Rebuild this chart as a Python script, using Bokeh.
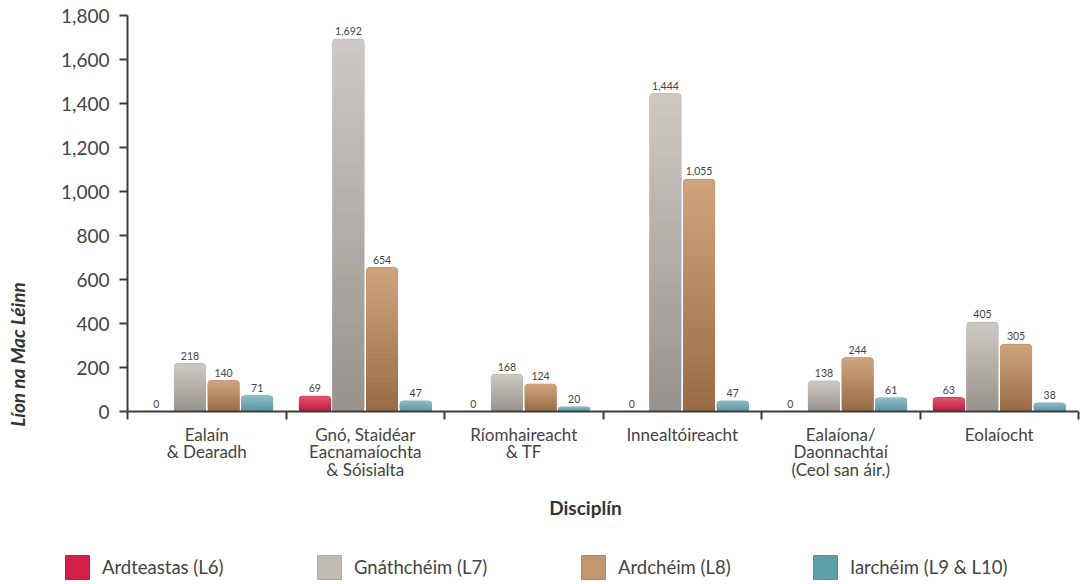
import numpy as np
from bokeh.plotting import figure
from bokeh.models import (Range1d, FixedTicker, NumeralTickFormatter, ColumnDataSource,
                          Legend, LegendItem, Label)
from bokeh.core.properties import value
from bokeh.embed import file_html
from bokeh.resources import INLINE

# ---------------- data ----------------
categories = ["Ealaín\n& Dearadh",
              "Gnó, Staidéar\nEacnamaíochta\n& Sóisialta",
              "Ríomhaireacht\n& TF",
              "Innealtóireacht",
              "Ealaíona/\nDaonnachtaí\n(Ceol san áir.)",
              "Eolaíocht"]
series_names = ["Ardteastas (L6)", "Gnáthchéim (L7)", "Ardchéim (L8)", "Iarchéim (L9 & L10)"]
l6 = [0, 69, 0, 0, 0, 63]
l7 = [218, 1692, 168, 1444, 138, 405]
l8 = [140, 654, 124, 1055, 244, 305]
l9 = [71, 47, 20, 47, 61, 38]
y_ticks = [0, 200, 400, 600, 800, 1000, 1200, 1400, 1600, 1800]
y_max = 1800

series_values = [l6, l7, l8, l9]
legend_colors = ["#d42049", "#c0bbb4", "#c4966b", "#5f9fa9"]
top_colors = ["#df5870", "#cdc8c2", "#cfa47d", "#8dbdc7"]
bottom_colors = ["#c21a3d", "#98938d", "#9a6c46", "#5a97a2"]
offsets = [-0.318, -0.106, 0.106, 0.318]
bar_w = 0.196
legend_x = [62, 314, 578, 810]   # legend item placement (px)

FONT = "Lato"
TXT = "#444444"
AX = "#3c3c3c"

W, H = 1080, 584
# plot-area placement in pixels (layout only)
PL, PR, PT, PB = 127, 1078, 15, 411
n_groups = len(categories)
xs_per_px = n_groups / (PR - PL)
ys_per_px = y_max / (PB - PT)


def hex2rgb(h):
    h = h.lstrip("#")
    return np.array([int(h[i:i + 2], 16) for i in (0, 2, 4)], dtype=float)


def mix(c1, c2, t):
    c = hex2rgb(c1) * (1 - t) + hex2rgb(c2) * t
    return "#%02x%02x%02x" % tuple(int(round(v)) for v in c)


p = figure(width=W, height=H, output_backend="svg", toolbar_location=None, title=None,
           x_range=Range1d(-PL * xs_per_px, n_groups + (W - PR) * xs_per_px),
           y_range=Range1d(-(H - PB) * ys_per_px, y_max + PT * ys_per_px),
           min_border=0)
p.outline_line_color = None
p.grid.visible = False
p.background_fill_color = "white"
p.border_fill_color = "white"

group_idx = np.arange(n_groups)

N = 30
for s, vals in enumerate(series_values):
    vals = np.array(vals, dtype=float)
    xs = group_idx + 0.5 + offsets[s]
    # base bar in the flat series colour (also used for the legend swatch)
    base = p.vbar(x=xs, top=vals, bottom=0, width=bar_w, fill_color=legend_colors[s],
                  line_color=mix(legend_colors[s], "#000000", 0.1), line_width=1,
                  border_radius=3)
    # vertical gradient, light at the top, darker towards the base
    for k in range(N, 0, -1):
        frac = k / N
        col = mix(bottom_colors[s], top_colors[s], (k - 1) / (N - 1))
        src = ColumnDataSource(dict(x=xs, top=vals * frac))
        kw = dict(border_radius=3) if k == N else {}
        p.vbar(x="x", top="top", bottom=0, width=bar_w, source=src,
               fill_color=col, line_color=None, **kw)
    lsrc = ColumnDataSource(dict(x=xs, y=vals, t=[f"{int(v):,}" for v in vals]))
    p.text(x="x", y="y", text="t", source=lsrc, text_font=value(FONT),
           text_font_size="10.5px", text_color=TXT, text_align="center",
           text_baseline="bottom", y_offset=-4)
    lg = Legend(items=[LegendItem(label=series_names[s], renderers=[base])],
                orientation="horizontal", location=(legend_x[s], 2),
                glyph_width=30, glyph_height=30, label_height=30, label_standoff=10,
                padding=0, margin=0, border_line_color=None,
                background_fill_alpha=0, label_text_font=FONT,
                label_text_font_size="18.5px", label_text_color=TXT)
    p.add_layout(lg, "center")

yax = p.yaxis[0]
yax.fixed_location = 0
yax.bounds = (0, y_max)
yax.ticker = FixedTicker(ticks=y_ticks)
yax.formatter = NumeralTickFormatter(format="0,0")
yax.major_label_text_font = FONT
yax.major_label_text_font_size = "19px"
yax.major_label_text_color = TXT
yax.axis_line_color = AX
yax.axis_line_width = 2
yax.major_tick_line_color = AX
yax.major_tick_line_width = 2
yax.major_tick_out = 8
yax.major_tick_in = 0
yax.minor_tick_line_color = None
yax.major_label_standoff = 10

xax = p.xaxis[0]
xax.fixed_location = 0
xax.bounds = (0, n_groups)
xax.ticker = FixedTicker(ticks=list(group_idx + 0.5), minor_ticks=list(range(n_groups + 1)))
xax.major_label_overrides = {float(i + 0.5): c for i, c in enumerate(categories)}
xax.major_label_text_font = FONT
xax.major_label_text_font_size = "17px"
xax.major_label_text_color = TXT
xax.major_label_text_line_height = 0.85
xax.major_label_standoff = 4
xax.major_tick_out = 0
xax.major_tick_in = 0
xax.major_tick_line_color = None
xax.minor_tick_line_color = AX
xax.minor_tick_line_width = 2
xax.minor_tick_out = 8
xax.minor_tick_in = 0
xax.axis_line_color = AX
xax.axis_line_width = 2

p.add_layout(Label(x=17, y=H - 354, x_units="screen", y_units="screen",
                   text="Líon na Mac Léinn", angle=np.pi / 2, text_align="center",
                   text_baseline="middle", text_font=FONT, text_font_style="bold italic",
                   text_font_size="19px", text_color="#333333"))
p.add_layout(Label(x=585, y=H - 507, x_units="screen", y_units="screen",
                   text="Disciplín", text_align="center", text_baseline="middle",
                   text_font=FONT, text_font_style="bold", text_font_size="19px",
                   text_color="#333333"))

open("out.html", "w").write(file_html(p, INLINE))
